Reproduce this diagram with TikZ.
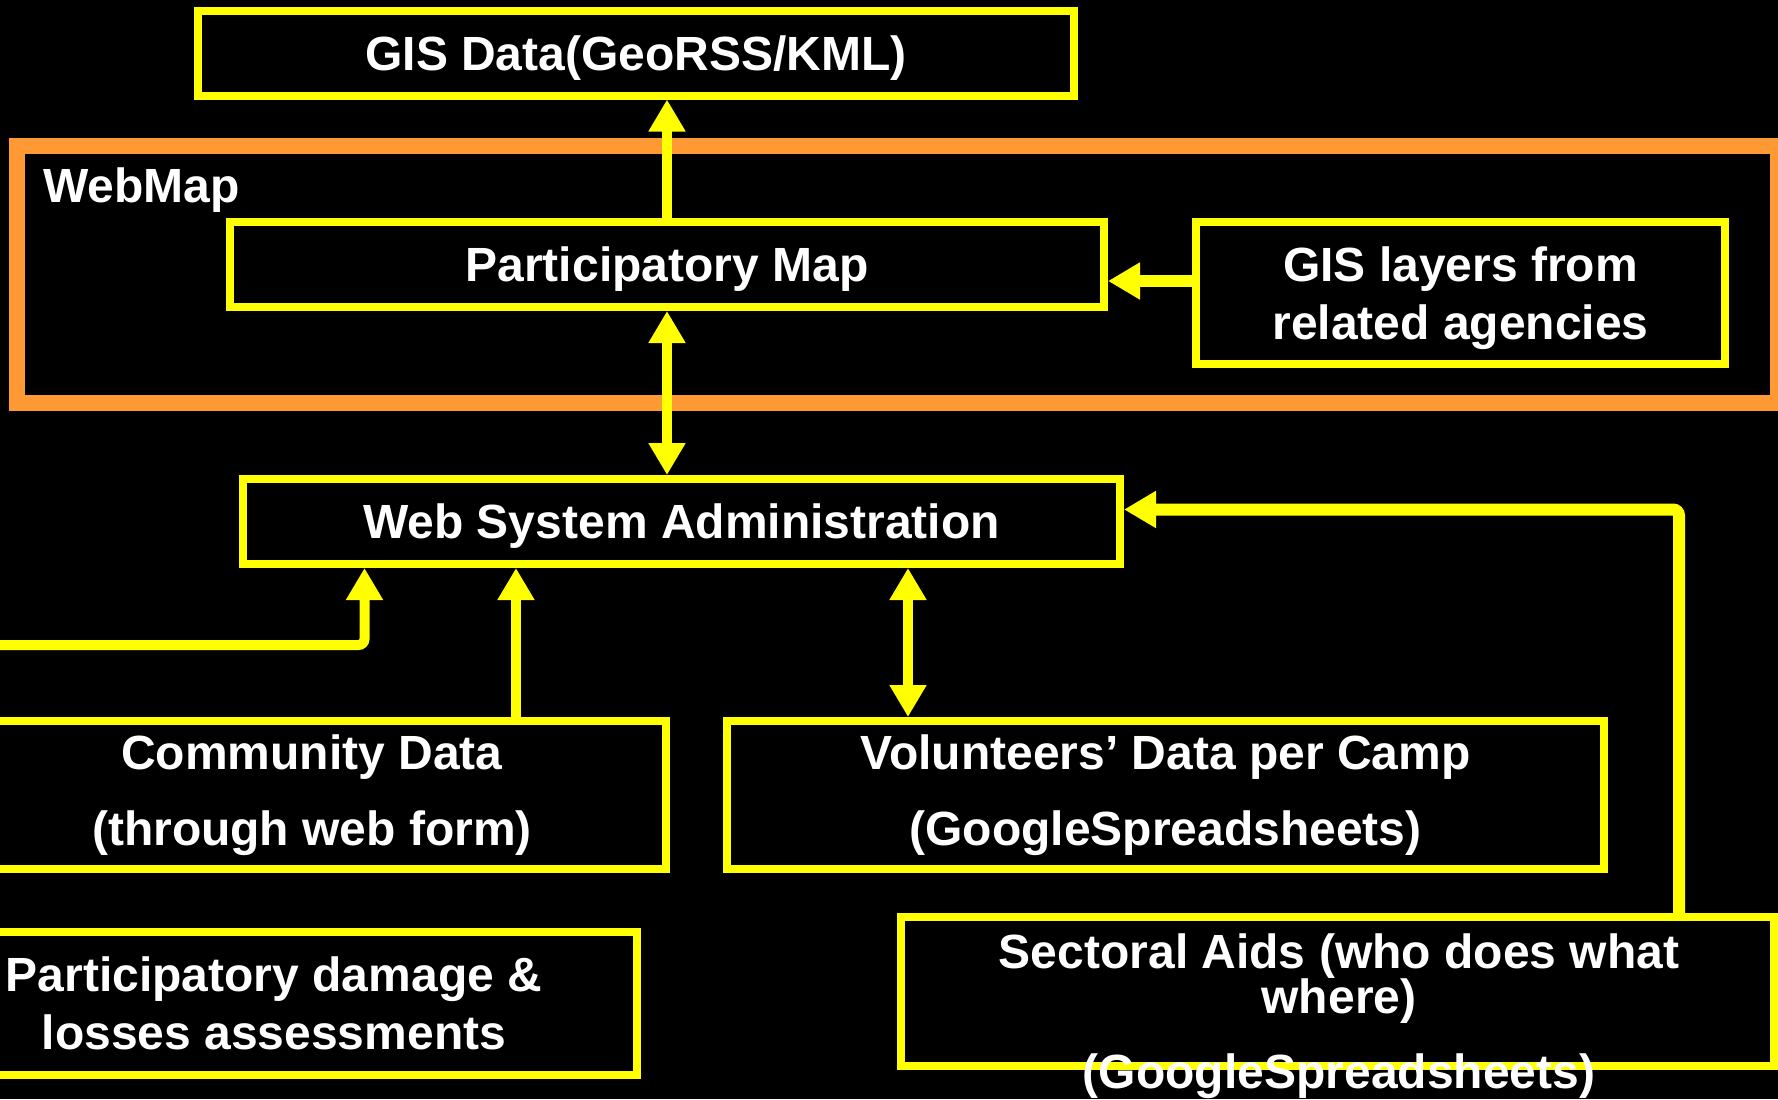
\documentclass[tikz,border=0pt]{standalone}
\usepackage{fontspec}
\setmainfont{Liberation Sans}
\usetikzlibrary{arrows.meta}
\definecolor{mapyellow}{RGB}{255,255,0}
\definecolor{maporange}{RGB}{255,153,51}

\begin{document}
\begin{tikzpicture}[x=0.5pt,y=-0.5pt,
  >={Triangle[length=16pt,width=17.5pt]},
  box/.style={draw=mapyellow,line width=4pt,inner sep=0pt,text=white,
    font=\bfseries\fontsize{24pt}{29pt}\selectfont,align=center},
  txt/.style={text=white,inner sep=0pt,align=center},
  arr/.style={draw=mapyellow,line width=5pt,->},
  darr/.style={draw=mapyellow,line width=5pt,<->}]
\fill[black] (0,0) rectangle (1778,1099);
\clip (0,0) rectangle (1778,1099);
\node[draw=maporange,line width=8pt,minimum width=880.5pt,minimum height=128.5pt] (webmap) at (897.5,274.5) {};
\node[txt,anchor=base west,font=\bfseries\fontsize{24pt}{29pt}\selectfont] (webmaplabel) at (43,202) {WebMap};
\node[box,text depth=0pt,minimum width=438pt,minimum height=42.5pt] (gisdata) at (636,53) {GIS Data(GeoRSS/KML)};
\node[box,text depth=0pt,minimum width=437pt,minimum height=42.5pt] (pmap) at (667,264.5) {Participatory Map};
\node[box,text depth=0pt,minimum width=264.5pt,minimum height=71pt] (layers) at (1460.5,293) {GIS layers from\\related agencies};
\node[box,text depth=0pt,minimum width=438.5pt,minimum height=42.5pt] (websys) at (681.5,521.5) {Web System Administration};
\node[box,minimum width=354pt,minimum height=74pt,font=\bfseries\fontsize{24pt}{38pt}\selectfont] (community) at (312,795) {Community Data\\(through web form)};
\node[box,minimum width=438.5pt,minimum height=74pt,font=\bfseries\fontsize{24pt}{38pt}\selectfont] (volunteers) at (1165.5,795) {Volunteers’ Data per Camp\\(GoogleSpreadsheets)};
\node[box,minimum width=363pt,minimum height=71.5pt] (damage) at (274,1003.5) {Participatory damage \&\\losses assessments};
\node[box,minimum width=436.5pt,minimum height=74.5pt] (sectoral) at (1337.5,991.5) {};
\node[txt,anchor=base,font=\bfseries\fontsize{24pt}{22.5pt}\selectfont] (sectoraltxt) at (1339,1088) {Sectoral Aids (who does what\\where)\\[15pt](GoogleSpreadsheets)};

% connectors
\coordinate (lin) at (-10,645);
\coordinate (lbend) at (364.5,645);
\coordinate (rbend) at (1679,509.5);
\draw[arr] (pmap.north) -- (pmap.north |- gisdata.south);
\draw[darr] (pmap.south) -- (pmap.south |- websys.north);
\draw[arr,line width=6pt] ([yshift=6pt]layers.west) -- ([yshift=6pt]layers.west -| pmap.east);
\draw[arr,rounded corners=3pt] (lin) -- (lbend) -- (lbend |- websys.south);
\draw[arr] ([xshift=102pt]community.north) -- ([xshift=102pt]community.north |- websys.south);
\draw[darr] ([xshift=-128.75pt]volunteers.north) -- ([xshift=-128.75pt]volunteers.north |- websys.south);
\draw[arr,line width=6pt,rounded corners=3pt] (rbend |- sectoral.north) -- (rbend) -- (rbend -| websys.east);
\end{tikzpicture}
\end{document}
